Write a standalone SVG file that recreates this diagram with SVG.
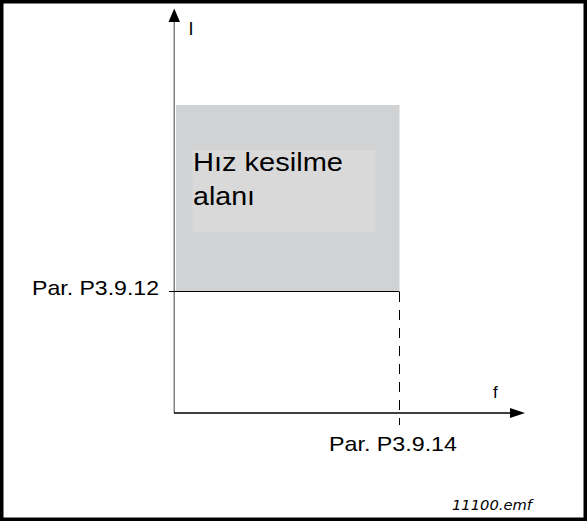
<svg xmlns="http://www.w3.org/2000/svg" width="587" height="521" viewBox="0 0 587 521">
<style>
.lbl{font-family:"Liberation Sans",Arial,sans-serif;fill:#000}
.par{font-family:"Liberation Sans",Arial,sans-serif;font-size:21px;fill:#000}
.emf{font-family:"DejaVu Sans",Verdana,sans-serif;font-style:italic;font-size:14px;fill:#000}
</style>
<rect x="0" y="0" width="587" height="521" fill="#fff"/>
<rect x="1.75" y="1.75" width="583.5" height="517.5" fill="none" stroke="#000" stroke-width="3.5"/>
<g id="region">
<rect x="176" y="105" width="223.5" height="186.5" fill="#d1d2d4"/>
<rect x="192.5" y="150" width="183" height="82" fill="#d9d9d9"/>
<text class="lbl" x="193" y="171" font-size="25" textLength="150" lengthAdjust="spacingAndGlyphs">Hız kesilme</text>
<text class="lbl" x="193" y="204.5" font-size="25" textLength="62" lengthAdjust="spacingAndGlyphs">alanı</text>
</g>
<g id="connectors">
<line x1="174.25" y1="413" x2="174.25" y2="20" stroke="#808080" stroke-width="1.5"/>
<polygon points="168.5,22 174.25,8.5 180,22" fill="#000"/>
<line x1="174" y1="413" x2="512" y2="413" stroke="#000" stroke-width="1.5"/>
<polygon points="510,408 525,413 510,418" fill="#000"/>
<line x1="169" y1="291.5" x2="399.5" y2="291.5" stroke="#000" stroke-width="1"/>
<line x1="399.5" y1="292" x2="399.5" y2="425" stroke="#000" stroke-width="1" stroke-dasharray="10,8"/>
</g>
<g id="labels">
<text class="lbl" x="188.5" y="34.5" font-size="18">I</text>
<text class="lbl" x="493" y="397.5" font-size="17">f</text>
<text class="par" x="32" y="295" textLength="127" lengthAdjust="spacingAndGlyphs">Par. P3.9.12</text>
<text class="par" x="329" y="451" textLength="128" lengthAdjust="spacingAndGlyphs">Par. P3.9.14</text>
<text class="emf" x="452" y="510" textLength="80" lengthAdjust="spacingAndGlyphs">11100.emf</text>
</g>
</svg>
